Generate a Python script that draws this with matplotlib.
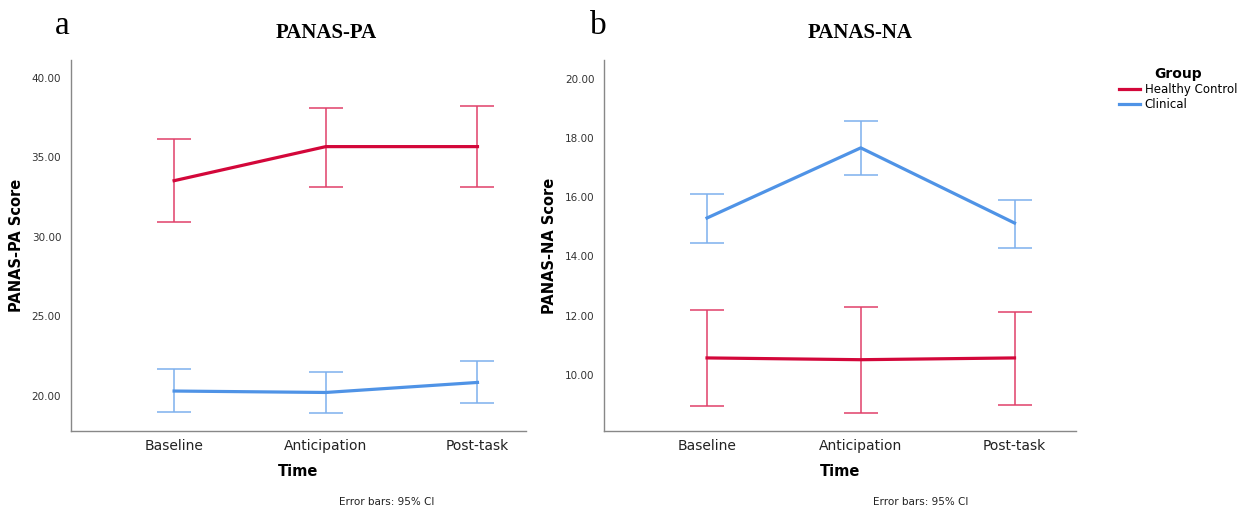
import matplotlib
matplotlib.use("Agg")
import matplotlib.pyplot as plt
import numpy as np
from matplotlib.lines import Line2D

times = ["Baseline", "Anticipation", "Post-task"]
groups = ["Healthy Control", "Clinical"]

# PANAS-PA: mean, lower CI, upper CI
pa_hc_mean = [33.52, 35.66, 35.66]
pa_hc_low = [30.94, 33.14, 33.10]
pa_hc_high = [36.16, 38.11, 38.24]
pa_cl_mean = [20.31, 20.22, 20.85]
pa_cl_low = [18.99, 18.95, 19.56]
pa_cl_high = [21.70, 21.50, 22.20]

# PANAS-NA: mean, lower CI, upper CI
na_hc_mean = [10.57, 10.51, 10.57]
na_hc_low = [8.95, 8.72, 8.99]
na_hc_high = [12.20, 12.30, 12.13]
na_cl_mean = [15.30, 17.67, 15.13]
na_cl_low = [14.46, 16.76, 14.29]
na_cl_high = [16.11, 18.58, 15.91]

red = "#D3073A"
blue = "#4F93E6"
red_err = "#E0406A"
blue_err = "#7DB0EE"

fig = plt.figure(figsize=(12.56, 5.15), dpi=100)
ax1 = fig.add_axes([0.0565, 0.1631, 0.3623, 0.7204])
ax2 = fig.add_axes([0.4809, 0.1631, 0.3758, 0.7204])

x = np.arange(len(times))


def draw(ax, mean, low, high, col, ecol):
    mean = np.array(mean)
    yerr = [mean - np.array(low), np.array(high) - mean]
    ax.errorbar(x, mean, yerr=yerr, fmt="none", ecolor=ecol, elinewidth=1.1,
                capsize=12.5, capthick=1.1, zorder=2)
    ax.plot(x, mean, color=col, lw=2.3, zorder=3)


draw(ax1, pa_hc_mean, pa_hc_low, pa_hc_high, red, red_err)
draw(ax1, pa_cl_mean, pa_cl_low, pa_cl_high, blue, blue_err)
draw(ax2, na_hc_mean, na_hc_low, na_hc_high, red, red_err)
draw(ax2, na_cl_mean, na_cl_low, na_cl_high, blue, blue_err)

ax1.set_ylim(17.8, 41.1)
ax1.set_yticks([20, 25, 30, 35, 40])
ax1.set_xlim(-0.68, 2.32)
ax2.set_ylim(8.1, 20.64)
ax2.set_yticks([10, 12, 14, 16, 18, 20])
ax2.set_xlim(-0.67, 2.40)

for ax, ylab, lx in [(ax1, "PANAS-PA Score", -0.103), (ax2, "PANAS-NA Score", -0.0996)]:
    ax.set_xticks(x)
    ax.set_xticklabels(times, fontsize=10, color="#222222")
    ax.yaxis.set_major_formatter(matplotlib.ticker.FormatStrFormatter("%.2f"))
    ax.tick_params(axis="y", labelsize=7.5, colors="#333333", length=0, pad=7)
    ax.tick_params(axis="x", length=0, pad=6)
    for s in ["top", "right"]:
        ax.spines[s].set_visible(False)
    for s in ["left", "bottom"]:
        ax.spines[s].set_color("#888888")
        ax.spines[s].set_linewidth(1.0)
    ax.set_ylabel(ylab, fontsize=10.5, fontweight="bold")
    ax.yaxis.set_label_coords(lx, 0.5)
    ax.set_xlabel("Time", fontsize=10.5, fontweight="bold", labelpad=8)

# panel letters and titles
fig.text(0.0495, 0.95, "a", family="Liberation Serif", fontsize=24, va="center", ha="center")
fig.text(0.2595, 0.935, "PANAS-PA", family="Liberation Serif", fontsize=15,
         fontweight="bold", va="center", ha="center")
fig.text(0.4765, 0.95, "b", family="Liberation Serif", fontsize=24, va="center", ha="center")
fig.text(0.685, 0.935, "PANAS-NA", family="Liberation Serif", fontsize=15,
         fontweight="bold", va="center", ha="center")

fig.text(0.308, 0.025, "Error bars: 95% CI", fontsize=7.5, ha="center", va="center", color="#222222")
fig.text(0.733, 0.025, "Error bars: 95% CI", fontsize=7.5, ha="center", va="center", color="#222222")

handles = [Line2D([], [], color=red, lw=2.3), Line2D([], [], color=blue, lw=2.3)]
leg = fig.legend(handles, groups, loc="upper left", bbox_to_anchor=(0.887, 0.88),
                 frameon=False, fontsize=8.5, title="Group", handlelength=1.8,
                 handletextpad=0.4, labelspacing=0.2, borderaxespad=0)
leg.get_title().set_fontweight("bold")
leg.get_title().set_fontsize(10)

fig.savefig("out.png", dpi=100)
